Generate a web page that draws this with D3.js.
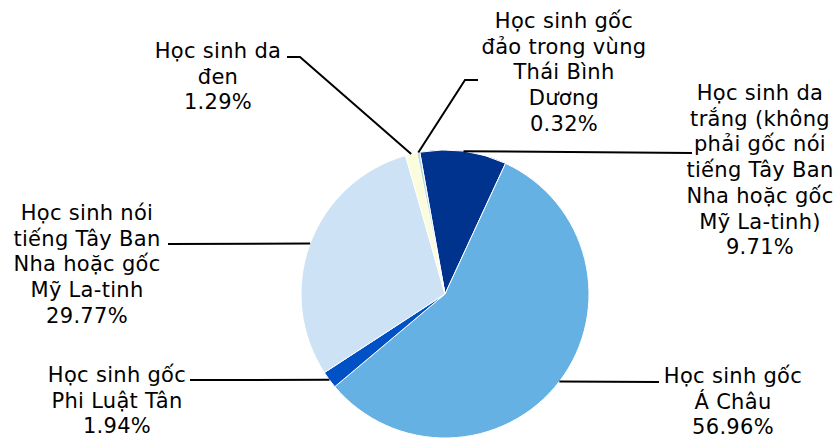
<!DOCTYPE html>
<html>
<head>
<meta charset="utf-8">
<script src="https://cdn.jsdelivr.net/npm/d3@7"></script>
<style>
  body { margin: 0; background: #fff; }
  svg text { font-family: "DejaVu Sans", Verdana, sans-serif; font-size: 21px; letter-spacing: 0.3px; fill: #000; }
</style>
</head>
<body>
<div id="chart"></div>
<script>
// Data, clockwise from the top
const groups = [
    "Học sinh da trắng (không phải gốc nói tiếng Tây Ban Nha hoặc gốc Mỹ La-tinh)",
    "Học sinh gốc Á Châu",
    "Học sinh gốc Phi Luật Tân",
    "Học sinh nói tiếng Tây Ban Nha hoặc gốc Mỹ La-tinh",
    "Học sinh da đen",
    "Học sinh gốc đảo trong vùng Thái Bình Dương"
];
const percents = [9.71, 56.96, 1.94, 29.77, 1.29, 0.32];
const labelLines = [
    ["Học sinh da", "trắng (không", "phải gốc nói", "tiếng Tây Ban", "Nha hoặc gốc", "Mỹ La-tinh)"],
    ["Học sinh gốc", "Á Châu"],
    ["Học sinh gốc", "Phi Luật Tân"],
    ["Học sinh nói", "tiếng Tây Ban", "Nha hoặc gốc", "Mỹ La-tinh"],
    ["Học sinh da", "đen"],
    ["Học sinh gốc", "đảo trong vùng", "Thái Bình", "Dương"]
];
const colors = ["#00338e", "#65b1e3", "#0050c6", "#cde3f5", "#fbfcdc", "#b9dcd2"];

const svgWidth = 837;
const svgHeight = 438;
const cx = 445, cy = 294, radius = 144;
const lineH = 25.7;

// label layout: text centre x, first baseline y, elbow point, line end near text
const layout = [
    { x: 760, y: 100, elbow: null, end: [692, 153] },
    { x: 733, y: 383, elbow: null, end: [659, 382] },
    { x: 117, y: 382, elbow: null, end: [190, 380] },
    { x: 87, y: 220, elbow: null, end: [168, 244] },
    { x: 218, y: 58, elbow: [300, 57], end: [287, 57] },
    { x: 564, y: 28, elbow: [465, 80], end: [478, 80] }
];

const svg = d3.select("#chart").append("svg")
    .attr("width", svgWidth)
    .attr("height", svgHeight);

const start = -10.1 * Math.PI / 180;
const pie = d3.pie().sort(null).value(d => d)
    .startAngle(start).endAngle(start + 2 * Math.PI);
const arc = d3.arc().innerRadius(0).outerRadius(radius);
const edgeArc = d3.arc().innerRadius(radius).outerRadius(radius);

const arcs = pie(percents);

const g = svg.append("g").attr("transform", `translate(${cx},${cy})`);

g.selectAll("path")
    .data(arcs)
    .enter().append("path")
    .attr("d", arc)
    .attr("fill", (d, i) => colors[i])
    .attr("stroke", "#fff")
    .attr("stroke-width", 1);

// Leader lines
arcs.forEach((d, i) => {
    const p = edgeArc.centroid(d);
    const a = [cx + p[0], cy + p[1]];
    const L = layout[i];
    const pts = L.elbow ? [a, L.elbow, L.end] : [a, L.end];
    svg.append("polyline")
        .attr("points", pts.map(q => q.join(",")).join(" "))
        .attr("fill", "none")
        .attr("stroke", "#000")
        .attr("stroke-width", 2);
});

// Labels
labelLines.forEach((lines, i) => {
    const L = layout[i];
    const t = svg.append("text")
        .attr("text-anchor", "middle")
        .attr("x", L.x)
        .attr("y", L.y);
    lines.concat([percents[i].toFixed(2) + "%"]).forEach((s, j) => {
        t.append("tspan")
            .attr("x", L.x)
            .attr("y", L.y + j * lineH)
            .text(s);
    });
});
</script>
</body>
</html>
